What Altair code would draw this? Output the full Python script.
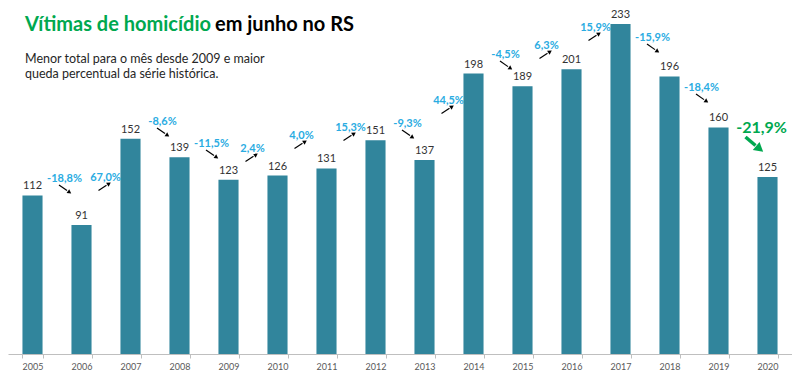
import altair as alt
import pandas as pd

years = [2005, 2006, 2007, 2008, 2009, 2010, 2011, 2012, 2013, 2014, 2015, 2016, 2017, 2018, 2019, 2020]
victims = [112, 91, 152, 139, 123, 126, 131, 151, 137, 198, 189, 201, 233, 196, 160, 125]

change_years = [2006, 2007, 2008, 2009, 2010, 2011, 2012, 2013, 2014, 2015, 2016, 2017, 2018, 2019, 2020]
change_labels = ["-18,8%", "67,0%", "-8,6%", "-11,5%", "2,4%", "4,0%", "15,3%", "-9,3%",
                 "44,5%", "-4,5%", "6,3%", "15,9%", "-15,9%", "-18,4%", "-21,9%"]
# height (in victims units) at which each change annotation sits
change_level = [123.6, 124.3, 163.8, 148.3, 144.7, 153.9, 159.6, 162.4,
                178.6, 211.1, 217.5, 230.2, 223.1, 187.8, 159.6]

title_green = "Vítimas de homicídio"
title_black = "em junho no RS"
subtitle_lines = ["Menor total para o mês desde 2009 e maior", "queda percentual da série histórica."]

FONT = "Lato"
BAR = "#31859C"
BLUE = "#2AACE2"
GREEN = "#00A84F"

bars_df = pd.DataFrame({"ano": [str(y) for y in years], "vitimas": victims})
kind = []
for i, lab in enumerate(change_labels):
    if change_years[i] == 2020:
        kind.append("destaque")
    elif lab.startswith("-"):
        kind.append("queda")
    else:
        kind.append("alta")
chg_df = pd.DataFrame({"ano": [str(y) for y in change_years], "rotulo": change_labels,
                       "nivel": change_level, "tipo": kind})

x = alt.X("ano:N", sort=[str(y) for y in years],
          scale=alt.Scale(paddingInner=0.59, paddingOuter=0.295),
          axis=alt.Axis(title=None, labelAngle=0, labelFontSize=9, labelColor="#595959",
                        labelFont=FONT, domainColor="#bfbfbf", tickColor="#bfbfbf",
                        tickSize=4, tickBand="extent", labelPadding=4))
yscale = alt.Scale(domain=[0, 244.3], nice=False, zero=True)

bars = alt.Chart(bars_df).mark_bar(color=BAR).encode(
    x=x, y=alt.Y("vitimas:Q", scale=yscale, axis=None))
vals = alt.Chart(bars_df).mark_text(baseline="bottom", dy=-4, fontSize=11, font=FONT, color="#333333").encode(
    x=x, y=alt.Y("vitimas:Q", scale=yscale), text="vitimas:Q")

up = chg_df[chg_df.tipo == "alta"]
down = chg_df[chg_df.tipo == "queda"]
hl = chg_df[chg_df.tipo == "destaque"]

def enc(ch):
    return ch.encode(x=x, y=alt.Y("nivel:Q", scale=yscale))

up_txt = enc(alt.Chart(up).mark_text(dx=-25, baseline="middle", fontSize=11, fontWeight="bold",
                                     font=FONT, color=BLUE)).encode(text="rotulo:N")
down_txt = enc(alt.Chart(down).mark_text(dx=-17, baseline="middle", fontSize=11, fontWeight="bold",
                                         font=FONT, color=BLUE)).encode(text="rotulo:N")
hl_txt = enc(alt.Chart(hl).mark_text(dx=-6, baseline="middle", fontSize=16, fontWeight="bold",
                                     font=FONT, color=GREEN)).encode(text="rotulo:N")

up_rule = alt.Chart(up).mark_rule(color="black", strokeWidth=1.2, xOffset=-32, yOffset=12.5,
                                  x2Offset=-24, y2Offset=7.3).encode(
    x=x, x2="ano:N", y=alt.Y("nivel:Q", scale=yscale), y2="nivel:Q")
up_head = enc(alt.Chart(up).mark_point(shape="triangle", filled=True, color="black", size=22,
                                       angle=57, xOffset=-22, yOffset=6, opacity=1))
down_rule = alt.Chart(down).mark_rule(color="black", strokeWidth=1.2, xOffset=-22.5, yOffset=6,
                                      x2Offset=-14.5, y2Offset=11.6).encode(
    x=x, x2="ano:N", y=alt.Y("nivel:Q", scale=yscale), y2="nivel:Q")
down_head = enc(alt.Chart(down).mark_point(shape="triangle", filled=True, color="black", size=22,
                                           angle=125, xOffset=-12.5, yOffset=13, opacity=1))
hl_rule = alt.Chart(hl).mark_rule(color=GREEN, strokeWidth=3.5, xOffset=-22, yOffset=9,
                                  x2Offset=-12, y2Offset=17.5).encode(
    x=x, x2="ano:N", y=alt.Y("nivel:Q", scale=yscale), y2="nivel:Q")
hl_head = enc(alt.Chart(hl).mark_point(shape="triangle", filled=True, color=GREEN, size=110,
                                       angle=130, xOffset=-9, yOffset=20, opacity=1))

one = alt.Data(values=[{"k": 1}])
t1 = alt.Chart(one).mark_text(align="left", baseline="alphabetic", fontSize=20, fontWeight="bold",
                              font=FONT, color=GREEN).encode(
    x=alt.value(17), y=alt.value(23), text=alt.value(title_green))
t2 = alt.Chart(one).mark_text(align="left", baseline="alphabetic", fontSize=20, fontWeight="bold",
                              font=FONT, color="black").encode(
    x=alt.value(207), y=alt.value(23), text=alt.value(title_black))
s1 = alt.Chart(one).mark_text(align="left", baseline="alphabetic", fontSize=12.5,
                              font=FONT, color="#262626").encode(
    x=alt.value(17), y=alt.value(55), text=alt.value(subtitle_lines[0]))
s2 = alt.Chart(one).mark_text(align="left", baseline="alphabetic", fontSize=12.5,
                              font=FONT, color="#262626").encode(
    x=alt.value(17), y=alt.value(69.5), text=alt.value(subtitle_lines[1]))

chart = alt.layer(
    bars, vals, up_rule, up_head, down_rule, down_head, hl_rule, hl_head,
    up_txt, down_txt, hl_txt, t1, t2, s1, s2
).properties(
    width=784, height=346,
    autosize=alt.AutoSizeParams(type="none"),
    padding={"left": 0, "right": 0, "top": 0, "bottom": 20},
).configure_view(stroke=None).configure_axis(grid=False)

chart.save("out.html", embed_options={"renderer": "svg", "actions": False})
